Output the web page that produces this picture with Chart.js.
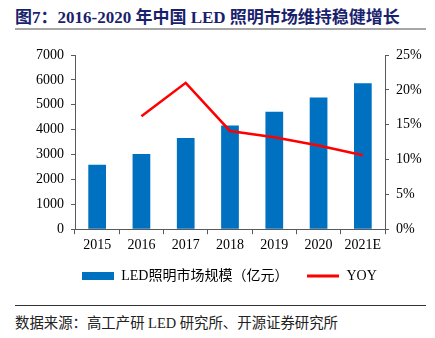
<!DOCTYPE html>
<html><head><meta charset="utf-8">
<script src="https://cdn.jsdelivr.net/npm/chart.js@4/dist/chart.umd.min.js"></script>
<style>
html,body{margin:0;padding:0;background:#fff;width:435px;height:338px;overflow:hidden;position:relative;}
#title{position:absolute;left:15px;top:3px;font-family:"Liberation Serif","Noto Sans CJK SC",serif;font-weight:bold;font-size:17px;color:#1a1f6e;white-space:nowrap;}
#tline{position:absolute;left:15px;top:28px;width:411px;height:2px;background:#a6a6a6;}
#bline{position:absolute;left:15px;top:305px;width:411px;height:1px;background:#333;}
#src{position:absolute;left:15px;top:311px;font-family:"Liberation Serif","Noto Sans CJK SC",serif;font-size:14.4px;color:#222;white-space:nowrap;}
#wrap{position:absolute;left:0;top:35px;width:435px;height:265px;}
</style></head>
<body>
<div id="title">图7：2016-2020 年中国 LED 照明市场维持稳健增长</div>
<div id="tline"></div>
<div id="wrap"><canvas id="c"></canvas></div>
<div id="bline"></div>
<div id="src">数据来源：高工产研 LED 研究所、开源证券研究所</div>
<script>
const categories = ['2015','2016','2017','2018','2019','2020','2021E'];
const marketSize = [2590, 3020, 3660, 4170, 4720, 5290, 5860];
const yoy = [null, 16.2, 21.0, 14.1, 13.2, 12.0, 10.6];
const leftTicks = [0,1000,2000,3000,4000,5000,6000,7000];
const rightTicks = [0,5,10,15,20,25];
const seriesNames = ['LED照明市场规模（亿元）','YOY'];

function mkImg(w,h,color,lh){
  const c=document.createElement('canvas');c.width=w;c.height=h;
  const x=c.getContext('2d');x.fillStyle=color;x.fillRect(0,(h-lh)/2,w,lh);return c;
}
const barImg = mkImg(32,8,'#0070c0',8);
const lineImg = mkImg(32,8,'#ff0000',3);
const serif = '"Liberation Serif","Times New Roman",serif';

new Chart(document.getElementById('c'),{
  data:{labels:categories,datasets:[
    {type:'bar',label:seriesNames[0],data:marketSize,backgroundColor:'#0070c0',yAxisID:'y',barPercentage:0.4,categoryPercentage:1,order:2},
    {type:'line',label:seriesNames[1],data:yoy,borderColor:'#ff0000',backgroundColor:'#ff0000',borderWidth:2.5,pointRadius:0,tension:0,yAxisID:'y1',order:1}
  ]},
  options:{
    responsive:true,maintainAspectRatio:false,animation:false,
    layout:{padding:{top:20,left:24,right:0,bottom:7}},
    plugins:{
      tooltip:{enabled:false},
      legend:{position:'bottom',labels:{
        usePointStyle:true,pointStyleWidth:32,boxHeight:8,padding:12,color:'#000',
        font:{family:'"Liberation Serif","Noto Sans CJK SC",serif',size:14},
        generateLabels:(chart)=>[
          {text:seriesNames[0]+'\u3000',pointStyle:barImg,fillStyle:'#0070c0',strokeStyle:'#0070c0',lineWidth:0,datasetIndex:0,fontColor:'#000'},
          {text:seriesNames[1],pointStyle:lineImg,fillStyle:'#ff0000',strokeStyle:'#ff0000',lineWidth:0,datasetIndex:1,fontColor:'#000'}
        ]
      }}
    },
    scales:{
      x:{offset:true,
        grid:{offset:true,drawOnChartArea:false,drawTicks:true,tickLength:5,color:'#595959'},
        border:{color:'#595959',width:1},
        ticks:{color:'#000',font:{family:serif,size:14},padding:3,maxRotation:0}},
      y:{position:'left',min:0,max:7000,
        afterBuildTicks:(s)=>{s.ticks=leftTicks.map(v=>({value:v}));},
        afterFit:(s)=>{s.width=51;},
        grid:{drawOnChartArea:false,drawTicks:true,tickLength:4,color:'#595959'},
        border:{color:'#595959',width:1},
        ticks:{color:'#000',font:{family:serif,size:14},padding:7,callback:(v)=>String(v)}},
      y1:{position:'right',min:0,max:25,
        afterBuildTicks:(s)=>{s.ticks=rightTicks.map(v=>({value:v}));},
        afterFit:(s)=>{s.width=50;},
        grid:{drawOnChartArea:false,drawTicks:true,tickLength:4,color:'#595959'},
        border:{color:'#595959',width:1},
        ticks:{color:'#000',font:{family:serif,size:14},padding:7,callback:(v)=>v+'%'}}
    }
  }
});
</script>
</body></html>
